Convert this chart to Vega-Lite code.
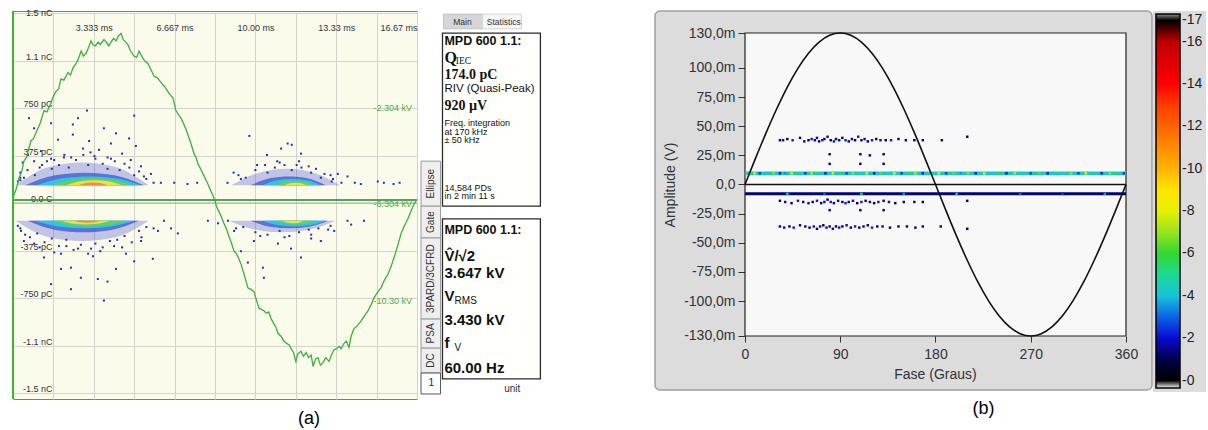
{
"$schema":"https://vega.github.io/schema/vega-lite/v6.json",
"background":"#ffffff",
"padding":{"left":9,"top":8,"right":0,"bottom":0},
"config":{"font":"Liberation Sans","legend":{"labelFont":"Liberation Sans"},"axis":{"labelOverlap":false,"labelSeparation":0}},
"datasets":{
"a_wave":[{"t":0,"v":0.02},{"t":0.03,"v":0.06},{"t":0.15,"v":0.12},{"t":0.25,"v":0.2},{"t":0.35,"v":0.24},{"t":0.45,"v":0.33},{"t":0.55,"v":0.36},{"t":0.74,"v":0.49},{"t":0.85,"v":0.51},{"t":1.03,"v":0.59},{"t":1.12,"v":0.63},{"t":1.28,"v":0.73},{"t":1.4,"v":0.72},{"t":1.57,"v":0.79},{"t":1.66,"v":0.84},{"t":1.77,"v":0.88},{"t":1.88,"v":0.9},{"t":1.98,"v":0.98},{"t":2.1,"v":0.97},{"t":2.27,"v":1.03},{"t":2.37,"v":1.01},{"t":2.48,"v":1.07},{"t":2.6,"v":1.1},{"t":2.7,"v":1.14},{"t":2.81,"v":1.2},{"t":2.9,"v":1.16},{"t":3.01,"v":1.18},{"t":3.1,"v":1.22},{"t":3.22,"v":1.28},{"t":3.3,"v":1.25},{"t":3.4,"v":1.24},{"t":3.51,"v":1.27},{"t":3.6,"v":1.25},{"t":3.75,"v":1.29},{"t":3.85,"v":1.27},{"t":3.95,"v":1.24},{"t":4.04,"v":1.27},{"t":4.15,"v":1.3},{"t":4.25,"v":1.28},{"t":4.35,"v":1.32},{"t":4.46,"v":1.34},{"t":4.55,"v":1.29},{"t":4.65,"v":1.27},{"t":4.74,"v":1.25},{"t":4.85,"v":1.2},{"t":4.99,"v":1.16},{"t":5.1,"v":1.15},{"t":5.2,"v":1.2},{"t":5.28,"v":1.17},{"t":5.4,"v":1.13},{"t":5.57,"v":1.1},{"t":5.7,"v":1.05},{"t":5.82,"v":1},{"t":5.95,"v":0.99},{"t":6.11,"v":0.95},{"t":6.25,"v":0.92},{"t":6.39,"v":0.88},{"t":6.5,"v":0.85},{"t":6.6,"v":0.83},{"t":6.72,"v":0.73},{"t":6.82,"v":0.7},{"t":6.93,"v":0.67},{"t":7.03,"v":0.63},{"t":7.14,"v":0.58},{"t":7.25,"v":0.52},{"t":7.34,"v":0.47},{"t":7.47,"v":0.39},{"t":7.55,"v":0.36},{"t":7.63,"v":0.31},{"t":7.74,"v":0.27},{"t":7.84,"v":0.23},{"t":7.94,"v":0.19},{"t":8.04,"v":0.15},{"t":8.15,"v":0.1},{"t":8.25,"v":0.06},{"t":8.33,"v":0.02},{"t":8.4,"v":-0.03},{"t":8.5,"v":-0.07},{"t":8.6,"v":-0.11},{"t":8.7,"v":-0.16},{"t":8.8,"v":-0.2},{"t":8.9,"v":-0.26},{"t":9,"v":-0.31},{"t":9.12,"v":-0.38},{"t":9.22,"v":-0.4},{"t":9.32,"v":-0.44},{"t":9.42,"v":-0.49},{"t":9.53,"v":-0.56},{"t":9.62,"v":-0.62},{"t":9.69,"v":-0.67},{"t":9.8,"v":-0.68},{"t":9.94,"v":-0.7},{"t":10.05,"v":-0.77},{"t":10.15,"v":-0.83},{"t":10.25,"v":-0.84},{"t":10.35,"v":-0.85},{"t":10.45,"v":-0.87},{"t":10.55,"v":-0.86},{"t":10.64,"v":-0.91},{"t":10.75,"v":-0.95},{"t":10.85,"v":-0.98},{"t":10.93,"v":-1.03},{"t":11.05,"v":-1.05},{"t":11.18,"v":-1.09},{"t":11.3,"v":-1.11},{"t":11.4,"v":-1.12},{"t":11.47,"v":-1.15},{"t":11.57,"v":-1.18},{"t":11.67,"v":-1.25},{"t":11.75,"v":-1.19},{"t":11.88,"v":-1.17},{"t":11.98,"v":-1.21},{"t":12.09,"v":-1.18},{"t":12.2,"v":-1.22},{"t":12.3,"v":-1.2},{"t":12.38,"v":-1.29},{"t":12.48,"v":-1.23},{"t":12.58,"v":-1.22},{"t":12.68,"v":-1.28},{"t":12.79,"v":-1.26},{"t":12.9,"v":-1.22},{"t":13.04,"v":-1.25},{"t":13.14,"v":-1.2},{"t":13.24,"v":-1.16},{"t":13.35,"v":-1.15},{"t":13.45,"v":-1.13},{"t":13.53,"v":-1.15},{"t":13.65,"v":-1.11},{"t":13.75,"v":-1.09},{"t":13.86,"v":-1.14},{"t":13.95,"v":-1.05},{"t":14.07,"v":-0.99},{"t":14.2,"v":-0.97},{"t":14.36,"v":-0.93},{"t":14.5,"v":-0.89},{"t":14.65,"v":-0.85},{"t":14.78,"v":-0.8},{"t":14.89,"v":-0.75},{"t":15.02,"v":-0.71},{"t":15.18,"v":-0.67},{"t":15.32,"v":-0.61},{"t":15.47,"v":-0.56},{"t":15.6,"v":-0.5},{"t":15.72,"v":-0.43},{"t":15.85,"v":-0.35},{"t":16.01,"v":-0.24},{"t":16.15,"v":-0.18},{"t":16.3,"v":-0.12},{"t":16.45,"v":-0.05},{"t":16.54,"v":-0.01},{"t":16.66,"v":0.03}],
"a_core":[
{"c":"P1","l":1,"t":0.1,"v":0.14,"b":0.14},{"c":"P1","l":1,"t":1.48,"v":0.284,"b":0.14},{"c":"P1","l":1,"t":2.85,"v":0.32,"b":0.14},{"c":"P1","l":1,"t":4.23,"v":0.284,"b":0.14},{"c":"P1","l":1,"t":5.6,"v":0.14,"b":0.14},
{"c":"P1","l":2,"t":0.5,"v":0.14,"b":0.14},{"c":"P1","l":2,"t":1.73,"v":0.22,"b":0.14},{"c":"P1","l":2,"t":2.95,"v":0.24,"b":0.14},{"c":"P1","l":2,"t":4.18,"v":0.22,"b":0.14},{"c":"P1","l":2,"t":5.4,"v":0.14,"b":0.14},
{"c":"P1","l":3,"t":0.95,"v":0.14,"b":0.14},{"c":"P1","l":3,"t":2.04,"v":0.196,"b":0.14},{"c":"P1","l":3,"t":3.13,"v":0.21,"b":0.14},{"c":"P1","l":3,"t":4.21,"v":0.196,"b":0.14},{"c":"P1","l":3,"t":5.3,"v":0.14,"b":0.14},
{"c":"P1","l":4,"t":1.6,"v":0.14,"b":0.14},{"c":"P1","l":4,"t":2.43,"v":0.184,"b":0.14},{"c":"P1","l":4,"t":3.25,"v":0.195,"b":0.14},{"c":"P1","l":4,"t":4.08,"v":0.184,"b":0.14},{"c":"P1","l":4,"t":4.9,"v":0.14,"b":0.14},
{"c":"P1","l":5,"t":2.2,"v":0.14,"b":0.14},{"c":"P1","l":5,"t":2.78,"v":0.172,"b":0.14},{"c":"P1","l":5,"t":3.35,"v":0.18,"b":0.14},{"c":"P1","l":5,"t":3.93,"v":0.172,"b":0.14},{"c":"P1","l":5,"t":4.5,"v":0.14,"b":0.14},
{"c":"P1","l":6,"t":2.7,"v":0.14,"b":0.14},{"c":"P1","l":6,"t":3.0,"v":0.158,"b":0.14},{"c":"P1","l":6,"t":3.3,"v":0.162,"b":0.14},{"c":"P1","l":6,"t":3.6,"v":0.158,"b":0.14},{"c":"P1","l":6,"t":3.9,"v":0.14,"b":0.14},
{"c":"P2","l":1,"t":9.0,"v":0.14,"b":0.14},{"c":"P2","l":1,"t":10.15,"v":0.24,"b":0.14},{"c":"P2","l":1,"t":11.3,"v":0.27,"b":0.14},{"c":"P2","l":1,"t":12.4,"v":0.24,"b":0.14},{"c":"P2","l":1,"t":13.5,"v":0.14,"b":0.14},
{"c":"P2","l":2,"t":9.8,"v":0.14,"b":0.14},{"c":"P2","l":2,"t":10.6,"v":0.195,"b":0.14},{"c":"P2","l":2,"t":11.4,"v":0.21,"b":0.14},{"c":"P2","l":2,"t":12.15,"v":0.195,"b":0.14},{"c":"P2","l":2,"t":12.9,"v":0.14,"b":0.14},
{"c":"P2","l":3,"t":10.3,"v":0.14,"b":0.14},{"c":"P2","l":3,"t":10.9,"v":0.18,"b":0.14},{"c":"P2","l":3,"t":11.5,"v":0.19,"b":0.14},{"c":"P2","l":3,"t":12.1,"v":0.18,"b":0.14},{"c":"P2","l":3,"t":12.7,"v":0.14,"b":0.14},
{"c":"P2","l":4,"t":10.8,"v":0.14,"b":0.14},{"c":"P2","l":4,"t":11.2,"v":0.168,"b":0.14},{"c":"P2","l":4,"t":11.6,"v":0.175,"b":0.14},{"c":"P2","l":4,"t":12.0,"v":0.168,"b":0.14},{"c":"P2","l":4,"t":12.4,"v":0.14,"b":0.14},
{"c":"P2","l":5,"t":11.2,"v":0.14,"b":0.14},{"c":"P2","l":5,"t":11.43,"v":0.156,"b":0.14},{"c":"P2","l":5,"t":11.65,"v":0.16,"b":0.14},{"c":"P2","l":5,"t":11.88,"v":0.156,"b":0.14},{"c":"P2","l":5,"t":12.1,"v":0.14,"b":0.14},
{"c":"N1","l":1,"t":0.1,"v":-0.14,"b":-0.14},{"c":"N1","l":1,"t":1.48,"v":-0.27,"b":-0.14},{"c":"N1","l":1,"t":2.85,"v":-0.3,"b":-0.14},{"c":"N1","l":1,"t":4.23,"v":-0.27,"b":-0.14},{"c":"N1","l":1,"t":5.6,"v":-0.14,"b":-0.14},
{"c":"N1","l":2,"t":0.6,"v":-0.14,"b":-0.14},{"c":"N1","l":2,"t":1.75,"v":-0.212,"b":-0.14},{"c":"N1","l":2,"t":2.9,"v":-0.23,"b":-0.14},{"c":"N1","l":2,"t":4.05,"v":-0.212,"b":-0.14},{"c":"N1","l":2,"t":5.2,"v":-0.14,"b":-0.14},
{"c":"N1","l":3,"t":0.9,"v":-0.14,"b":-0.14},{"c":"N1","l":3,"t":1.93,"v":-0.188,"b":-0.14},{"c":"N1","l":3,"t":2.95,"v":-0.2,"b":-0.14},{"c":"N1","l":3,"t":3.98,"v":-0.188,"b":-0.14},{"c":"N1","l":3,"t":5.0,"v":-0.14,"b":-0.14},
{"c":"N1","l":4,"t":1.6,"v":-0.14,"b":-0.14},{"c":"N1","l":4,"t":2.38,"v":-0.176,"b":-0.14},{"c":"N1","l":4,"t":3.15,"v":-0.185,"b":-0.14},{"c":"N1","l":4,"t":3.93,"v":-0.176,"b":-0.14},{"c":"N1","l":4,"t":4.7,"v":-0.14,"b":-0.14},
{"c":"N1","l":5,"t":2.0,"v":-0.14,"b":-0.14},{"c":"N1","l":5,"t":2.5,"v":-0.164,"b":-0.14},{"c":"N1","l":5,"t":3.0,"v":-0.17,"b":-0.14},{"c":"N1","l":5,"t":3.5,"v":-0.164,"b":-0.14},{"c":"N1","l":5,"t":4.0,"v":-0.14,"b":-0.14},
{"c":"N1","l":6,"t":2.5,"v":-0.14,"b":-0.14},{"c":"N1","l":6,"t":2.78,"v":-0.152,"b":-0.14},{"c":"N1","l":6,"t":3.05,"v":-0.155,"b":-0.14},{"c":"N1","l":6,"t":3.33,"v":-0.152,"b":-0.14},{"c":"N1","l":6,"t":3.6,"v":-0.14,"b":-0.14},
{"c":"N2","l":1,"t":8.9,"v":-0.14,"b":-0.14},{"c":"N2","l":1,"t":10.0,"v":-0.21,"b":-0.14},{"c":"N2","l":1,"t":11.1,"v":-0.23,"b":-0.14},{"c":"N2","l":1,"t":12.2,"v":-0.21,"b":-0.14},{"c":"N2","l":1,"t":13.3,"v":-0.14,"b":-0.14},
{"c":"N2","l":2,"t":9.8,"v":-0.14,"b":-0.14},{"c":"N2","l":2,"t":10.6,"v":-0.188,"b":-0.14},{"c":"N2","l":2,"t":11.4,"v":-0.2,"b":-0.14},{"c":"N2","l":2,"t":12.2,"v":-0.188,"b":-0.14},{"c":"N2","l":2,"t":13.0,"v":-0.14,"b":-0.14},
{"c":"N2","l":3,"t":10.3,"v":-0.14,"b":-0.14},{"c":"N2","l":3,"t":10.95,"v":-0.176,"b":-0.14},{"c":"N2","l":3,"t":11.6,"v":-0.185,"b":-0.14},{"c":"N2","l":3,"t":12.25,"v":-0.176,"b":-0.14},{"c":"N2","l":3,"t":12.9,"v":-0.14,"b":-0.14},
{"c":"N2","l":4,"t":10.8,"v":-0.14,"b":-0.14},{"c":"N2","l":4,"t":11.23,"v":-0.164,"b":-0.14},{"c":"N2","l":4,"t":11.65,"v":-0.17,"b":-0.14},{"c":"N2","l":4,"t":12.08,"v":-0.164,"b":-0.14},{"c":"N2","l":4,"t":12.5,"v":-0.14,"b":-0.14},
{"c":"N2","l":5,"t":11.1,"v":-0.14,"b":-0.14},{"c":"N2","l":5,"t":11.33,"v":-0.156,"b":-0.14},{"c":"N2","l":5,"t":11.55,"v":-0.16,"b":-0.14},{"c":"N2","l":5,"t":11.78,"v":-0.156,"b":-0.14},{"c":"N2","l":5,"t":12.0,"v":-0.14,"b":-0.14}
],
"a_dots":[{"t":0.66,"v":0.67},{"t":1.57,"v":0.63},{"t":2.68,"v":0.67},{"t":3.05,"v":0.73},{"t":2.47,"v":0.62},{"t":0.87,"v":0.59},{"t":3.75,"v":0.59},{"t":4.25,"v":0.55},{"t":4.79,"v":0.51},{"t":5.0,"v":0.69},{"t":1.86,"v":0.5},{"t":2.47,"v":0.54},{"t":3.14,"v":0.49},{"t":4.04,"v":0.47},{"t":1.15,"v":0.41},{"t":2.89,"v":0.43},{"t":3.55,"v":0.42},{"t":4.5,"v":0.39},{"t":0.62,"v":0.38},{"t":5.07,"v":0.45},{"t":2.12,"v":0.38},{"t":3.36,"v":0.37},{"t":1.57,"v":0.35},{"t":4.04,"v":0.35},{"t":4.86,"v":0.34},{"t":0.4,"v":0.32},{"t":0.87,"v":0.33},{"t":5.28,"v":0.29},{"t":5.69,"v":0.23},{"t":6.1,"v":0.16},{"t":6.65,"v":0.16},{"t":7.2,"v":0.15},{"t":7.6,"v":0.16},{"t":0.3,"v":0.18},{"t":0.2,"v":0.17},{"t":0.45,"v":0.2},{"t":5.5,"v":0.19},{"t":5.8,"v":0.16},{"t":0.3,"v":0.24},{"t":5.2,"v":0.25},{"t":1.2,"v":0.3},{"t":4.6,"v":0.31},{"t":1.7,"v":0.34},{"t":3.9,"v":0.36},{"t":2.4,"v":0.36},{"t":3.2,"v":0.4},
{"t":0.3,"v":0.2},{"t":0.6,"v":0.26},{"t":0.9,"v":0.22},{"t":1.1,"v":0.28},{"t":1.4,"v":0.33},{"t":1.6,"v":0.27},{"t":1.9,"v":0.3},{"t":2.1,"v":0.36},{"t":2.3,"v":0.28},{"t":2.6,"v":0.34},{"t":2.9,"v":0.38},{"t":3.1,"v":0.3},{"t":3.4,"v":0.35},{"t":3.7,"v":0.31},{"t":3.9,"v":0.27},{"t":4.2,"v":0.33},{"t":4.4,"v":0.26},{"t":4.8,"v":0.28},{"t":5.0,"v":0.22},{"t":5.4,"v":0.21},
{"t":9.75,"v":0.53},{"t":11.33,"v":0.47},{"t":11.5,"v":0.46},{"t":11.06,"v":0.43},{"t":11.88,"v":0.39},{"t":10.48,"v":0.38},{"t":10.9,"v":0.33},{"t":10.07,"v":0.3},{"t":11.7,"v":0.3},{"t":9.1,"v":0.24},{"t":12.5,"v":0.27},{"t":12.85,"v":0.23},{"t":13.4,"v":0.23},{"t":13.8,"v":0.21},{"t":13.55,"v":0.16},{"t":14.1,"v":0.16},{"t":14.35,"v":0.15},{"t":15.05,"v":0.17},{"t":15.3,"v":0.16},{"t":15.7,"v":0.15},{"t":15.95,"v":0.16},{"t":8.85,"v":0.16},{"t":9.4,"v":0.19},{"t":13.15,"v":0.17},{"t":9.3,"v":0.22},{"t":13.1,"v":0.22},{"t":10.4,"v":0.3},{"t":12.2,"v":0.29},{"t":11.0,"v":0.32},{"t":11.8,"v":0.33},
{"t":9.6,"v":0.2},{"t":10.0,"v":0.26},{"t":10.5,"v":0.24},{"t":10.8,"v":0.28},{"t":11.2,"v":0.3},{"t":11.5,"v":0.26},{"t":11.9,"v":0.28},{"t":12.3,"v":0.24},{"t":12.7,"v":0.2},{"t":13.2,"v":0.19},
{"t":0.33,"v":-0.22},{"t":1.7,"v":-0.39},{"t":1.98,"v":-0.52},{"t":2.39,"v":-0.51},{"t":2.8,"v":-0.59},{"t":3.5,"v":-0.6},{"t":3.9,"v":-0.62},{"t":3.75,"v":-0.77},{"t":2.39,"v":-0.68},{"t":1.57,"v":-0.64},{"t":4.25,"v":-0.52},{"t":5.0,"v":-0.46},{"t":5.77,"v":-0.44},{"t":1.98,"v":-0.4},{"t":3.3,"v":-0.42},{"t":4.66,"v":-0.4},{"t":2.68,"v":-0.36},{"t":4.17,"v":-0.34},{"t":0.87,"v":-0.32},{"t":5.28,"v":-0.3},{"t":5.98,"v":-0.22},{"t":6.52,"v":-0.2},{"t":6.8,"v":-0.24},{"t":6.23,"v":-0.14},{"t":8.04,"v":-0.14},{"t":0.45,"v":-0.3},{"t":1.28,"v":-0.43},{"t":3.22,"v":-0.36},{"t":0.2,"v":-0.18},{"t":5.8,"v":-0.2},{"t":0.5,"v":-0.25},{"t":5.3,"v":-0.27},{"t":1.1,"v":-0.35},{"t":4.5,"v":-0.35},{"t":2.2,"v":-0.34},{"t":3.6,"v":-0.38},
{"t":0.3,"v":-0.2},{"t":0.7,"v":-0.27},{"t":1.0,"v":-0.24},{"t":1.3,"v":-0.31},{"t":1.6,"v":-0.28},{"t":1.9,"v":-0.34},{"t":2.2,"v":-0.29},{"t":2.5,"v":-0.37},{"t":2.8,"v":-0.33},{"t":3.1,"v":-0.4},{"t":3.4,"v":-0.32},{"t":3.7,"v":-0.35},{"t":4.0,"v":-0.3},{"t":4.3,"v":-0.29},{"t":4.6,"v":-0.26},{"t":4.9,"v":-0.31},{"t":5.2,"v":-0.22},{"t":5.5,"v":-0.19},
{"t":9.69,"v":-0.47},{"t":10.31,"v":-0.51},{"t":10.35,"v":-0.59},{"t":11.88,"v":-0.43},{"t":11.47,"v":-0.36},{"t":10.93,"v":-0.32},{"t":9.94,"v":-0.3},{"t":12.7,"v":-0.3},{"t":9.12,"v":-0.22},{"t":13.25,"v":-0.22},{"t":13.95,"v":-0.17},{"t":14.48,"v":-0.14},{"t":13.8,"v":-0.14},{"t":8.46,"v":-0.16},{"t":8.87,"v":-0.14},{"t":12.3,"v":-0.28},{"t":9.4,"v":-0.38},{"t":9.2,"v":-0.2},{"t":13.0,"v":-0.21},{"t":10.2,"v":-0.26},{"t":12.3,"v":-0.25},{"t":11.2,"v":-0.27},
{"t":9.5,"v":-0.19},{"t":10.0,"v":-0.23},{"t":10.5,"v":-0.25},{"t":11.0,"v":-0.22},{"t":11.4,"v":-0.26},{"t":11.8,"v":-0.23},{"t":12.2,"v":-0.21},{"t":12.6,"v":-0.2},{"t":13.1,"v":-0.18}],
"a_kv":[{"lab":"-2.304 kV","v":0.75},{"lab":"-6.304 kV","v":-0.01},{"lab":"-10.30 kV","v":-0.77}],
"tabs":[{"name":"Ellipse","s":38.7,"e":50.3,"m":44.5},{"name":"Gate","s":50.3,"e":58.5,"m":54.4},{"name":"3PARD/3CFRD","s":58.5,"e":79.4,"m":69.0},{"name":"PSA","s":79.4,"e":86.9,"m":83.1},{"name":"DC","s":86.9,"e":93.3,"m":90.1}],
"tab1":[{"name":"1","s":93.3,"e":98.7,"m":96.0}],
"boxes":[{"box":"charge","top":5.7,"bot":50.3},{"box":"voltage","top":53.6,"bot":94.8}],
"i_head":[{"txt":"MPD 600 1.1:","line":7.8},{"txt":"MPD 600 1.1:","line":56.5}],
"i_serif":[{"txt":"174.0 pC","line":16.4},{"txt":"920 µV","line":24.4}],
"i_qsym":[{"txt":"Q","line":12.0}],
"i_qsub":[{"txt":"IEC","line":13.0}],
"i_val":[{"txt":"3.647 kV","line":67.5},{"txt":"3.430 kV","line":79.6},{"txt":"60.00 Hz","line":92.1}],
"i_sym":[{"txt":"V̂/√2","line":63.2},{"txt":"V","line":73.4},{"txt":"f","line":85.5}],
"i_sub":[{"txt":"RMS","line":74.8},{"txt":"V","line":86.9}],
"i_norm":[{"txt":"RIV (Quasi-Peak)","line":20.0}],
"i_small":[{"txt":"Freq. integration","line":28.9},{"txt":"at 170 kHz","line":31.2},{"txt":"± 50 kHz","line":33.3},{"txt":"14,584 PDs","line":45.6},{"txt":"in  2 min 11 s","line":47.8}],
"b_wave":[{"deg":0,"mv":0},{"deg":10,"mv":22.6},{"deg":20,"mv":44.5},{"deg":30,"mv":65},{"deg":40,"mv":83.6},{"deg":50,"mv":99.6},{"deg":60,"mv":112.6},{"deg":70,"mv":122.2},{"deg":80,"mv":128},{"deg":90,"mv":130},{"deg":100,"mv":128},{"deg":110,"mv":122.2},{"deg":120,"mv":112.6},{"deg":130,"mv":99.6},{"deg":140,"mv":83.6},{"deg":150,"mv":65},{"deg":160,"mv":44.5},{"deg":170,"mv":22.6},{"deg":180,"mv":0},{"deg":190,"mv":-22.6},{"deg":200,"mv":-44.5},{"deg":210,"mv":-65},{"deg":220,"mv":-83.6},{"deg":230,"mv":-99.6},{"deg":240,"mv":-112.6},{"deg":250,"mv":-122.2},{"deg":260,"mv":-128},{"deg":270,"mv":-130},{"deg":280,"mv":-128},{"deg":290,"mv":-122.2},{"deg":300,"mv":-112.6},{"deg":310,"mv":-99.6},{"deg":320,"mv":-83.6},{"deg":330,"mv":-65},{"deg":340,"mv":-44.5},{"deg":350,"mv":-22.6},{"deg":360,"mv":0}],
"b_bands":[{"d0":0,"d1":360,"lo":8,"hi":11.2,"n":4.2},{"d0":0,"d1":360,"lo":-9.3,"hi":-6.6,"n":1.3}],
"b_dots":[
{"deg":5,"mv":9.6,"n":6.5},{"deg":9,"mv":9.6,"n":8.5},{"deg":14,"mv":9.6,"n":2.5},{"deg":20,"mv":9.6,"n":4},{"deg":27,"mv":9.6,"n":7},{"deg":33,"mv":9.6,"n":2},{"deg":38,"mv":9.6,"n":3.5},{"deg":44,"mv":9.6,"n":8},{"deg":50,"mv":9.6,"n":6},{"deg":57,"mv":9.6,"n":2.5},{"deg":63,"mv":9.6,"n":7.5},{"deg":70,"mv":9.6,"n":5.5},{"deg":76,"mv":9.6,"n":2},{"deg":83,"mv":9.6,"n":8.5},{"deg":90,"mv":9.6,"n":6},{"deg":96,"mv":9.6,"n":2.5},{"deg":102,"mv":9.6,"n":7},{"deg":109,"mv":9.6,"n":5},{"deg":115,"mv":9.6,"n":8},{"deg":122,"mv":9.6,"n":2},{"deg":128,"mv":9.6,"n":6.5},{"deg":135,"mv":9.6,"n":5},{"deg":141,"mv":9.6,"n":8.5},{"deg":148,"mv":9.6,"n":2.5},{"deg":155,"mv":9.6,"n":6},{"deg":161,"mv":9.6,"n":7.5},{"deg":168,"mv":9.6,"n":2},{"deg":175,"mv":9.6,"n":5.5},{"deg":183,"mv":9.6,"n":8},{"deg":190,"mv":9.6,"n":2.5},{"deg":197,"mv":9.6,"n":6.5},{"deg":204,"mv":9.6,"n":3.5},{"deg":211,"mv":9.6,"n":7},{"deg":218,"mv":9.6,"n":2},{"deg":226,"mv":9.6,"n":8.5},{"deg":233,"mv":9.6,"n":4},{"deg":240,"mv":9.6,"n":6},{"deg":247,"mv":9.6,"n":2},{"deg":255,"mv":9.6,"n":7.5},{"deg":262,"mv":9.6,"n":5},{"deg":270,"mv":9.6,"n":2.5},{"deg":278,"mv":9.6,"n":6.5},{"deg":286,"mv":9.6,"n":2},{"deg":300,"mv":9.6,"n":5},{"deg":308,"mv":9.6,"n":7},{"deg":315,"mv":9.6,"n":2.5},{"deg":322,"mv":9.6,"n":8},{"deg":330,"mv":9.6,"n":5.5},{"deg":337,"mv":9.6,"n":2},{"deg":345,"mv":9.6,"n":7},{"deg":352,"mv":9.6,"n":6},{"deg":358,"mv":9.6,"n":2.5},
{"deg":40,"mv":-8,"n":4},{"deg":75,"mv":-8,"n":3},{"deg":110,"mv":-8,"n":5},{"deg":150,"mv":-8,"n":3.5},{"deg":200,"mv":-8,"n":4},{"deg":260,"mv":-8,"n":3},{"deg":300,"mv":-8,"n":2.5},{"deg":340,"mv":-8,"n":3.5},
{"deg":33,"mv":38,"n":1.4},{"deg":36,"mv":38,"n":1.8},{"deg":40,"mv":39,"n":1.2},{"deg":45,"mv":38,"n":2.2},{"deg":52,"mv":40,"n":1.4},{"deg":56,"mv":37,"n":1.8},{"deg":60,"mv":38,"n":1.2},{"deg":63,"mv":39,"n":2.2},{"deg":66,"mv":38,"n":1.4},{"deg":68,"mv":40,"n":1.8},{"deg":70,"mv":37,"n":1.2},{"deg":73,"mv":38,"n":2.2},{"deg":75,"mv":39,"n":1.4},{"deg":78,"mv":41,"n":1.8},{"deg":81,"mv":38,"n":1.2},{"deg":84,"mv":37,"n":2.2},{"deg":86,"mv":39,"n":1.4},{"deg":89,"mv":38,"n":1.8},{"deg":92,"mv":40,"n":1.2},{"deg":95,"mv":38,"n":2.2},{"deg":98,"mv":37,"n":1.4},{"deg":101,"mv":39,"n":1.8},{"deg":104,"mv":38,"n":1.2},{"deg":107,"mv":41,"n":2.2},{"deg":110,"mv":38,"n":1.4},{"deg":113,"mv":39,"n":1.8},{"deg":116,"mv":37,"n":1.2},{"deg":120,"mv":38,"n":2.2},{"deg":124,"mv":39,"n":1.4},{"deg":128,"mv":38,"n":1.8},{"deg":133,"mv":38,"n":1.2},{"deg":138,"mv":38,"n":2.2},{"deg":145,"mv":39,"n":1.4},{"deg":152,"mv":38,"n":1.8},{"deg":160,"mv":38,"n":1.2},{"deg":168,"mv":38,"n":1.4},{"deg":186,"mv":38,"n":1.4},{"deg":210,"mv":41,"n":1.4},
{"deg":80,"mv":26,"n":1.4},{"deg":109,"mv":26,"n":1.4},{"deg":118,"mv":25,"n":1.4},{"deg":131,"mv":26,"n":1.4},{"deg":80,"mv":17.7,"n":1.4},{"deg":109,"mv":17.7,"n":1.4},{"deg":131,"mv":17.7,"n":1.4},{"deg":80,"mv":-22,"n":1.4},{"deg":109,"mv":-22,"n":1.4},{"deg":131,"mv":-22,"n":1.4},{"deg":210,"mv":-14,"n":1.4},{"deg":210,"mv":-38,"n":1.4},
{"deg":33,"mv":-14,"n":1.4},{"deg":38,"mv":-15,"n":1.8},{"deg":44,"mv":-16,"n":1.2},{"deg":50,"mv":-14,"n":2.2},{"deg":55,"mv":-15,"n":1.4},{"deg":60,"mv":-16,"n":1.8},{"deg":64,"mv":-15,"n":1.2},{"deg":68,"mv":-14,"n":2.2},{"deg":72,"mv":-16,"n":1.4},{"deg":75,"mv":-15,"n":1.8},{"deg":78,"mv":-13,"n":1.2},{"deg":81,"mv":-15,"n":2.2},{"deg":84,"mv":-16,"n":1.4},{"deg":88,"mv":-14,"n":1.8},{"deg":92,"mv":-15,"n":1.2},{"deg":95,"mv":-16,"n":2.2},{"deg":98,"mv":-15,"n":1.4},{"deg":102,"mv":-14,"n":1.8},{"deg":106,"mv":-16,"n":1.2},{"deg":110,"mv":-15,"n":2.2},{"deg":114,"mv":-14,"n":1.4},{"deg":118,"mv":-15,"n":1.8},{"deg":122,"mv":-16,"n":1.2},{"deg":126,"mv":-15,"n":2.2},{"deg":131,"mv":-14,"n":1.4},{"deg":136,"mv":-15,"n":1.8},{"deg":142,"mv":-16,"n":1.2},{"deg":150,"mv":-15,"n":1.4},{"deg":160,"mv":-15,"n":1.4},{"deg":168,"mv":-15,"n":1.4},
{"deg":33,"mv":-36,"n":1.4},{"deg":37,"mv":-37,"n":1.8},{"deg":42,"mv":-36,"n":1.2},{"deg":46,"mv":-37,"n":2.2},{"deg":52,"mv":-35,"n":1.4},{"deg":57,"mv":-36,"n":1.8},{"deg":61,"mv":-37,"n":1.2},{"deg":65,"mv":-36,"n":2.2},{"deg":68,"mv":-38,"n":1.4},{"deg":71,"mv":-36,"n":1.8},{"deg":74,"mv":-35,"n":1.2},{"deg":77,"mv":-37,"n":2.2},{"deg":80,"mv":-36,"n":1.4},{"deg":83,"mv":-38,"n":1.8},{"deg":86,"mv":-36,"n":1.2},{"deg":89,"mv":-37,"n":2.2},{"deg":92,"mv":-36,"n":1.4},{"deg":96,"mv":-35,"n":1.8},{"deg":100,"mv":-37,"n":1.2},{"deg":104,"mv":-36,"n":2.2},{"deg":108,"mv":-37,"n":1.4},{"deg":112,"mv":-36,"n":1.8},{"deg":116,"mv":-35,"n":1.2},{"deg":120,"mv":-37,"n":2.2},{"deg":125,"mv":-36,"n":1.4},{"deg":130,"mv":-36,"n":1.8},{"deg":137,"mv":-37,"n":1.2},{"deg":145,"mv":-36,"n":1.4},{"deg":153,"mv":-36,"n":1.4},{"deg":161,"mv":-37,"n":1.4},{"deg":168,"mv":-36,"n":1.4},{"deg":185,"mv":-36,"n":1.4}
]
},
"spacing":112,
"hconcat":[
{"spacing":0,"hconcat":[
{
"width":404,"height":388,
"view":{"fill":"#fbfbec","stroke":"#7c7c7c","strokeWidth":1},
"title":{"text":"(a)","orient":"bottom","anchor":"middle","frame":"group","dx":94,"offset":10,"fontSize":18,"fontWeight":"normal","color":"#000000"},
"layer":[
{"data":{"name":"a_core"},"transform":[{"filter":"datum.l == 1"}],
 "mark":{"type":"area","color":"#2a35c8","opacity":0.28,"interpolate":"monotone"},
 "encoding":{
  "x":{"field":"t","type":"quantitative","scale":{"domain":[0,16.66667],"nice":false,"zero":false},
   "axis":{"orient":"top","offset":-23,"values":[0,1.66667,3.33333,5,6.66667,8.33333,10,11.66667,13.33333,15,16.66667],"tickCount":30,
    "labelExpr":"datum.value < 3 || round(datum.value / 1.666667) % 2 == 1 ? '' : format(datum.value, '.4r') + ' ms'",
    "domain":false,"ticks":false,"tickSize":0,"grid":true,"gridColor":"#d4d4cc","gridWidth":1,"labelFontSize":9,"labelColor":"#333333","labelPadding":2,"labelFlush":true,"labelOverlap":false,"title":null}},
  "y":{"field":"v","type":"quantitative","stack":null,"scale":{"domain":[-1.547,1.516],"nice":false,"zero":false},
   "axis":{"orient":"left","offset":-40,"values":[-1.5,-1.125,-0.75,-0.375,0,0.375,0.75,1.125,1.5],"tickCount":30,
    "labelExpr":"datum.value == 0 ? '0.0 C' : (datum.value < 0 ? '-' : '') + (abs(datum.value) >= 1 ? format(abs(datum.value), '.1f') + ' nC' : format(abs(datum.value) * 1000, 'd') + ' pC')",
    "domain":false,"ticks":false,"tickSize":0,"grid":true,"gridColor":"#d4d4cc","gridWidth":1,"labelAlign":"right","labelPadding":1,"labelOffset":-4.5,"labelFlush":3,"labelFontSize":9,"labelColor":"#333333","labelOverlap":false,"title":null}},
  "y2":{"field":"b"},"detail":{"field":"c"}}},
{"data":{"name":"a_core"},"transform":[{"filter":"datum.l == 2"}],"mark":{"type":"area","color":"#2f4fd8","opacity":0.7,"interpolate":"monotone"},"encoding":{"x":{"field":"t","type":"quantitative"},"y":{"field":"v","type":"quantitative","stack":null},"y2":{"field":"b"},"detail":{"field":"c"}}},
{"data":{"name":"a_core"},"transform":[{"filter":"datum.l == 3"}],"mark":{"type":"area","color":"#2ec5e3","interpolate":"monotone"},"encoding":{"x":{"field":"t","type":"quantitative"},"y":{"field":"v","type":"quantitative","stack":null},"y2":{"field":"b"},"detail":{"field":"c"}}},
{"data":{"name":"a_core"},"transform":[{"filter":"datum.l == 4"}],"mark":{"type":"area","color":"#62d160","interpolate":"monotone"},"encoding":{"x":{"field":"t","type":"quantitative"},"y":{"field":"v","type":"quantitative","stack":null},"y2":{"field":"b"},"detail":{"field":"c"}}},
{"data":{"name":"a_core"},"transform":[{"filter":"datum.l == 5"}],"mark":{"type":"area","color":"#eee040","interpolate":"monotone"},"encoding":{"x":{"field":"t","type":"quantitative"},"y":{"field":"v","type":"quantitative","stack":null},"y2":{"field":"b"},"detail":{"field":"c"}}},
{"data":{"name":"a_core"},"transform":[{"filter":"datum.l == 6"}],"mark":{"type":"area","color":"#f28a48","interpolate":"monotone"},"encoding":{"x":{"field":"t","type":"quantitative"},"y":{"field":"v","type":"quantitative","stack":null},"y2":{"field":"b"},"detail":{"field":"c"}}},
{"data":{"values":[{"ref":"zero"}]},"mark":{"type":"rule","color":"#8cb88c","strokeWidth":1},"encoding":{"y":{"datum":0}}},
{"data":{"values":[{"ref":"trigger"}]},"mark":{"type":"rule","color":"#2e7d32","strokeWidth":1.3},"encoding":{"y":{"datum":0.024}}},
{"data":{"name":"a_dots"},"mark":{"type":"square","color":"#1f2cc4","size":4,"opacity":1,"filled":true},"encoding":{"x":{"field":"t","type":"quantitative"},"y":{"field":"v","type":"quantitative"}}},
{"data":{"name":"a_wave"},"mark":{"type":"line","color":"#3caf3c","strokeWidth":1.3},"encoding":{"x":{"field":"t","type":"quantitative"},"y":{"field":"v","type":"quantitative"}}},
{"data":{"values":[{"ref":"edge"}]},"mark":{"type":"rule","color":"#3cb43c","strokeWidth":2},"encoding":{"x":{"datum":0}}},
{"data":{"name":"a_kv"},"mark":{"type":"text","align":"right","baseline":"middle","dx":-5,"fontSize":9,"color":"#45b045"},"encoding":{"x":{"datum":16.66667},"y":{"field":"v","type":"quantitative"},"text":{"field":"lab"}}}
]
},
{
"width":120,"height":388,
"view":{"stroke":null,"fill":"#ffffff"},
"layer":[
{"data":{"name":"tabs"},"mark":{"type":"rect","fill":"#eeeeee","stroke":"#9a9a9a","strokeWidth":1},
 "encoding":{"x":{"datum":0,"type":"quantitative","scale":{"domain":[0,1],"nice":false,"zero":false},"axis":null},"x2":{"datum":0.163},
 "y":{"field":"s","type":"quantitative","scale":{"domain":[0,100],"reverse":true,"nice":false,"zero":false},"axis":null},"y2":{"field":"e"}}},
{"data":{"name":"tabs"},"mark":{"type":"text","angle":270,"fontSize":10,"color":"#333333","align":"center","baseline":"middle"},"encoding":{"x":{"datum":0.085},"y":{"field":"m","type":"quantitative"},"text":{"field":"name"}}},
{"data":{"name":"tab1"},"mark":{"type":"rect","fill":"#ffffff","stroke":"#555555","strokeWidth":1},"encoding":{"x":{"datum":0},"x2":{"datum":0.163},"y":{"field":"s","type":"quantitative"},"y2":{"field":"e"}}},
{"data":{"name":"tab1"},"mark":{"type":"text","fontSize":11,"color":"#333333","align":"center","baseline":"middle"},"encoding":{"x":{"datum":0.085},"y":{"field":"m","type":"quantitative"},"text":{"field":"name"}}},
{"data":{"values":[{"tab":"Main"}]},"mark":{"type":"rect","fill":"#d6d6d6","stroke":"#c4c4c4","strokeWidth":1},"encoding":{"x":{"datum":0.187},"x2":{"datum":0.512},"y":{"datum":0.8},"y2":{"datum":4.6}}},
{"data":{"values":[{"tab":"Statistics"}]},"mark":{"type":"rect","fill":"#f6f6f6","stroke":"#d4d4d4","strokeWidth":1},"encoding":{"x":{"datum":0.512},"x2":{"datum":0.837},"y":{"datum":0.8},"y2":{"datum":4.6}}},
{"data":{"values":[{"tab":"Main"}]},"mark":{"type":"text","fontSize":8.5,"color":"#333333","align":"center","baseline":"middle"},"encoding":{"x":{"datum":0.345},"y":{"datum":2.8},"text":{"field":"tab"}}},
{"data":{"values":[{"tab":"Statistics"}]},"mark":{"type":"text","fontSize":8.5,"color":"#333333","align":"center","baseline":"middle"},"encoding":{"x":{"datum":0.69},"y":{"datum":2.8},"text":{"field":"tab"}}},
{"data":{"name":"boxes"},"mark":{"type":"rect","fill":"#fffffb","stroke":"#2a2a2a","strokeWidth":1.3},"encoding":{"x":{"datum":0.179},"x2":{"datum":0.995},"y":{"field":"top","type":"quantitative"},"y2":{"field":"bot"}}},
{"data":{"name":"i_head"},"mark":{"type":"text","align":"left","baseline":"middle","fontSize":12.5,"fontWeight":"bold","color":"#111111"},"encoding":{"x":{"datum":0.195},"y":{"field":"line","type":"quantitative"},"text":{"field":"txt"}}},
{"data":{"name":"i_serif"},"mark":{"type":"text","align":"left","baseline":"middle","fontSize":14,"fontWeight":"bold","font":"Liberation Serif","color":"#111111"},"encoding":{"x":{"datum":0.195},"y":{"field":"line","type":"quantitative"},"text":{"field":"txt"}}},
{"data":{"name":"i_qsym"},"mark":{"type":"text","align":"left","baseline":"middle","fontSize":16,"fontWeight":"bold","font":"Liberation Serif","color":"#111111"},"encoding":{"x":{"datum":0.195},"y":{"field":"line","type":"quantitative"},"text":{"field":"txt"}}},
{"data":{"name":"i_qsub"},"mark":{"type":"text","align":"left","baseline":"middle","fontSize":9.5,"font":"Liberation Serif","color":"#111111"},"encoding":{"x":{"datum":0.29},"y":{"field":"line","type":"quantitative"},"text":{"field":"txt"}}},
{"data":{"name":"i_val"},"mark":{"type":"text","align":"left","baseline":"middle","fontSize":15,"fontWeight":"bold","color":"#111111"},"encoding":{"x":{"datum":0.195},"y":{"field":"line","type":"quantitative"},"text":{"field":"txt"}}},
{"data":{"name":"i_sym"},"mark":{"type":"text","align":"left","baseline":"middle","fontSize":15,"fontWeight":"bold","color":"#111111"},"encoding":{"x":{"datum":0.195},"y":{"field":"line","type":"quantitative"},"text":{"field":"txt"}}},
{"data":{"name":"i_sub"},"mark":{"type":"text","align":"left","baseline":"middle","fontSize":10,"color":"#111111"},"encoding":{"x":{"datum":0.28},"y":{"field":"line","type":"quantitative"},"text":{"field":"txt"}}},
{"data":{"name":"i_norm"},"mark":{"type":"text","align":"left","baseline":"middle","fontSize":11.5,"color":"#111111"},"encoding":{"x":{"datum":0.195},"y":{"field":"line","type":"quantitative"},"text":{"field":"txt"}}},
{"data":{"name":"i_small"},"mark":{"type":"text","align":"left","baseline":"middle","fontSize":9,"color":"#111111"},"encoding":{"x":{"datum":0.195},"y":{"field":"line","type":"quantitative"},"text":{"field":"txt"}}},
{"data":{"values":[{"txt":"unit"}]},"mark":{"type":"text","align":"center","baseline":"middle","fontSize":10,"color":"#333333"},"encoding":{"x":{"datum":0.76},"y":{"datum":97.3},"text":{"field":"txt"}}}
]
}
]},
{
"width":497,"height":379,
"view":{"fill":"#dcdcdc","stroke":"#a0a0a0","strokeWidth":1.5,"cornerRadius":5},
"title":{"text":"(b)","orient":"bottom","anchor":"middle","frame":"group","dx":80,"offset":10,"fontSize":18,"fontWeight":"normal","color":"#000000"},
"layer":[
{"data":{"values":[{"ref":"plot"}]},"mark":{"type":"rect","fill":"#f8f8f8","stroke":"#222222","strokeWidth":1.2},
 "encoding":{
  "x":{"datum":0,"type":"quantitative","scale":{"domain":[-85.04,384.57],"nice":false,"zero":false},
   "axis":{"orient":"bottom","offset":-54,"values":[0,90,180,270,360],"tickCount":30,"domain":false,"grid":false,"ticks":true,"tickSize":6,"tickColor":"#333333","tickWidth":1,"labelFontSize":14,"labelColor":"#333333","labelPadding":5,"labelFlush":false,"labelOverlap":false,"title":"Fase (Graus)","titleFontSize":14,"titleFontWeight":"normal","titleColor":"#333333","titlePadding":6,"titleX":280}},
  "x2":{"datum":360},
  "y":{"datum":-130,"type":"quantitative","scale":{"domain":[-176.34,148.88],"nice":false,"zero":false},
   "axis":{"orient":"left","offset":-90,"values":[-130,-100,-75,-50,-25,0,25,50,75,100,130],"tickCount":30,"labelExpr":"datum.value == 0 ? '0,0' : datum.value + ',0m'","domain":false,"grid":false,"tickSize":7,"tickColor":"#333333","labelFontSize":14,"labelColor":"#333333","labelPadding":3,"labelFlush":false,"labelOverlap":false,"title":"Amplitude (V)","titleFontSize":14,"titleFontWeight":"normal","titleColor":"#333333","titlePadding":6,"titleY":173.5}},
  "y2":{"datum":130}}},
{"data":{"name":"b_bands"},"mark":{"type":"rect"},
 "encoding":{"x":{"field":"d0","type":"quantitative"},"x2":{"field":"d1"},"y":{"field":"lo","type":"quantitative"},"y2":{"field":"hi"},
 "color":{"field":"n","type":"quantitative",
  "scale":{"domain":[-0.35,0,1,2,3,4,5,6,7,8,9,10,11,12,13,14,15,16,16.7,17,17.3],
   "range":["#f6f6f6","#000000","#00004a","#0a0ad2","#0a64e8","#16c4d8","#1ed896","#30d830","#98e41e","#e6f000","#ffe400","#ffb400","#ff8c00","#ff6400","#ff3c00","#ff0000","#e00000","#c00000","#8c0000","#000000","#8c8c8c"],
   "interpolate":"rgb","nice":false,"zero":false,"clamp":true},
  "legend":{"type":"gradient","orient":"right","direction":"vertical","offset":0,"padding":3,"fillColor":"#dcdcdc","gradientLength":374,"gradientThickness":24,"gradientStrokeColor":"#000000","gradientStrokeWidth":1.5,"values":[0,2,4,6,8,10,12,14,16,17],"format":"d","labelExpr":"'-' + datum.label","labelFontSize":14,"labelColor":"#222222","labelOffset":2,"labelOverlap":false,"title":null}}}},
{"data":{"name":"b_dots"},"mark":{"type":"square","size":6,"filled":true,"opacity":1},"encoding":{"x":{"field":"deg","type":"quantitative"},"y":{"field":"mv","type":"quantitative"},"color":{"field":"n","type":"quantitative"}}},
{"data":{"values":[{"ref":"zero"}]},"mark":{"type":"rule","color":"#111111","strokeWidth":1.5},"encoding":{"x":{"datum":0},"x2":{"datum":360},"y":{"datum":0}}},
{"data":{"name":"b_wave"},"mark":{"type":"line","color":"#111111","strokeWidth":1.6,"interpolate":"monotone"},
 "encoding":{"x":{"field":"deg","type":"quantitative"},"y":{"field":"mv","type":"quantitative"}}}
]
}
]
}
